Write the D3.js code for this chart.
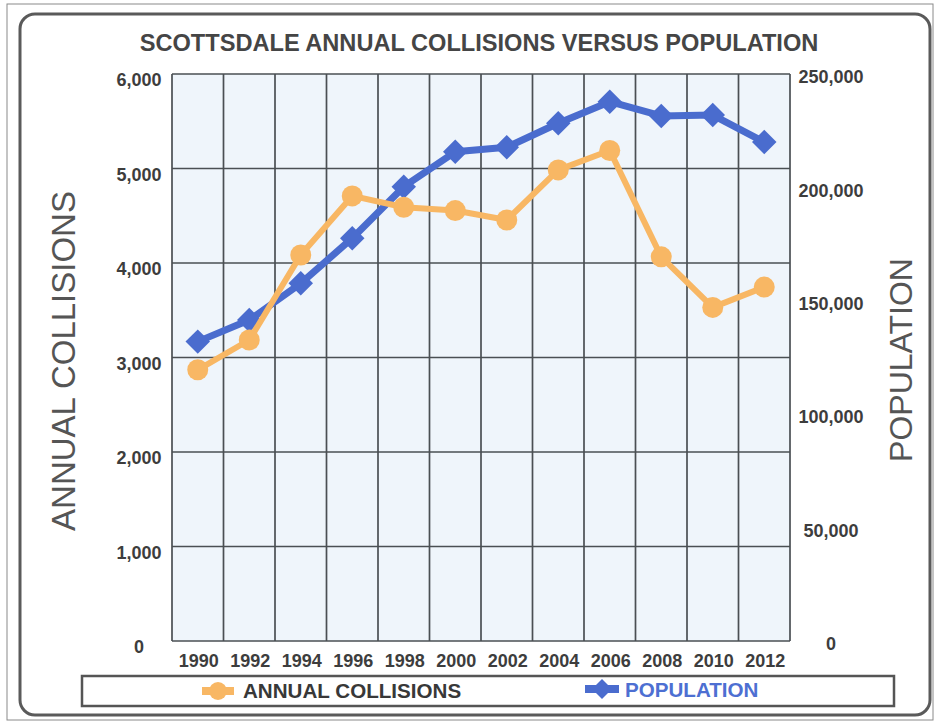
<!DOCTYPE html>
<html>
<head>
<meta charset="utf-8">
<script src="https://cdn.jsdelivr.net/npm/d3@7/dist/d3.min.js"></script>
<style>
  html, body { margin: 0; padding: 0; background: #ffffff; }
  svg { display: block; font-family: "Liberation Sans", Arial, sans-serif; }
</style>
</head>
<body>
<svg id="chart" width="934" height="723"></svg>
<script>
// Scottsdale annual collisions vs. population, 1990-2012 (every other year)
const years = ["1990","1992","1994","1996","1998","2000","2002","2004","2006","2008","2010","2012"];
const collisions = [2870, 3185, 4085, 4710, 4590, 4555, 4455, 4985, 5190, 4065, 3530, 3745];
const population = [132000, 141500, 157700, 177600, 200300, 215700, 217700, 228300, 237800, 231500, 231900, 220000];
const leftTicks = [0, 1000, 2000, 3000, 4000, 5000, 6000];
const rightTicks = [0, 50000, 100000, 150000, 200000, 250000];

const svg = d3.select("#chart");
const plot = { left: 172, right: 790, top: 74, bottom: 641 };

const orange = "#f8b764";
const blue = "#4a6cce";
const gridColor = "#4a4f53";
const textDark = "#3d3d3d";

// Frames
svg.append("rect")
  .attr("x", 7).attr("y", 4).attr("width", 926).attr("height", 716)
  .attr("fill", "none").attr("stroke", "#8a8a8a").attr("stroke-width", 1);
svg.append("rect")
  .attr("x", 20).attr("y", 14).attr("width", 910).attr("height", 701)
  .attr("rx", 15).attr("ry", 15)
  .attr("fill", "#ffffff").attr("stroke", "#5a5a5a").attr("stroke-width", 3);

// Title
svg.append("text")
  .attr("x", 479).attr("y", 51)
  .attr("text-anchor", "middle")
  .attr("font-size", 23.6).attr("font-weight", "bold")
  .attr("fill", "#454545")
  .text("SCOTTSDALE ANNUAL COLLISIONS VERSUS POPULATION");

// Scales
const x = d3.scaleBand().domain(years).range([plot.left, plot.right]).padding(0);
const yL = d3.scaleLinear().domain([0, 6000]).range([plot.bottom, plot.top]);
const yR = d3.scaleLinear().domain([0, 250000]).range([plot.bottom, plot.top]);
const cx = d => x(d) + x.bandwidth() / 2;

// Plot background
svg.append("rect")
  .attr("x", plot.left).attr("y", plot.top)
  .attr("width", plot.right - plot.left).attr("height", plot.bottom - plot.top)
  .attr("fill", "#eff5fb");

// Gridlines
const grid = svg.append("g").attr("stroke", gridColor).attr("stroke-width", 1.7);
grid.selectAll("line.h").data(leftTicks).join("line")
  .attr("class", "h")
  .attr("x1", plot.left).attr("x2", plot.right)
  .attr("y1", d => yL(d)).attr("y2", d => yL(d));
const bounds = years.map(d => x(d)).concat([plot.right]);
grid.selectAll("line.v").data(bounds).join("line")
  .attr("class", "v")
  .attr("x1", d => d).attr("x2", d => d)
  .attr("y1", plot.top).attr("y2", plot.bottom);

// Left axis labels
const fmt = d3.format(",");
const leftAxis = d3.axisLeft(yL).tickValues(leftTicks).tickFormat(fmt).tickSize(0);
const gL = svg.append("g").attr("transform", "translate(139,6)").call(leftAxis);
gL.select(".domain").remove();
gL.selectAll("text")
  .attr("x", 0).attr("text-anchor", "middle")
  .attr("font-size", 18).attr("font-weight", "bold")
  .attr("font-family", "Liberation Sans, Arial, sans-serif")
  .attr("fill", textDark);

// Right axis labels
const rightAxis = d3.axisRight(yR).tickValues(rightTicks).tickFormat(fmt).tickSize(0);
const gR = svg.append("g").attr("transform", "translate(831,3)").call(rightAxis);
gR.select(".domain").remove();
gR.selectAll("text")
  .attr("x", 0).attr("text-anchor", "middle")
  .attr("font-size", 18).attr("font-weight", "bold")
  .attr("font-family", "Liberation Sans, Arial, sans-serif")
  .attr("fill", textDark);

// Bottom axis labels
const bottomAxis = d3.axisBottom(x).tickSize(0);
const gB = svg.append("g").attr("transform", `translate(1,${plot.bottom + 10})`).call(bottomAxis);
gB.select(".domain").remove();
gB.selectAll("text")
  .attr("font-size", 18).attr("font-weight", "bold")
  .attr("font-family", "Liberation Sans, Arial, sans-serif")
  .attr("fill", textDark);

// Axis titles
svg.append("text")
  .attr("transform", "translate(75,361) rotate(-90)")
  .attr("text-anchor", "middle")
  .attr("font-size", 33)
  .attr("fill", "#555555")
  .text("ANNUAL COLLISIONS");
svg.append("text")
  .attr("transform", "translate(912,360) rotate(-90)")
  .attr("text-anchor", "middle")
  .attr("font-size", 32)
  .attr("fill", "#555555")
  .text("POPULATION");

// Population series (secondary axis)
const popLine = d3.line().x((d, i) => cx(years[i])).y(d => yR(d));
svg.append("path")
  .datum(population)
  .attr("d", popLine)
  .attr("fill", "none").attr("stroke", blue).attr("stroke-width", 7)
  .attr("stroke-linejoin", "round");
const diamond = d3.symbol().type(d3.symbolSquare).size(300);
svg.selectAll("path.pop").data(population).join("path")
  .attr("class", "pop")
  .attr("d", diamond)
  .attr("transform", (d, i) => `translate(${cx(years[i])},${yR(d)}) rotate(45)`)
  .attr("fill", blue);

// Collisions series
const colLine = d3.line().x((d, i) => cx(years[i])).y(d => yL(d));
svg.append("path")
  .datum(collisions)
  .attr("d", colLine)
  .attr("fill", "none").attr("stroke", orange).attr("stroke-width", 6)
  .attr("stroke-linejoin", "round");
svg.selectAll("circle.col").data(collisions).join("circle")
  .attr("class", "col")
  .attr("cx", (d, i) => cx(years[i]))
  .attr("cy", d => yL(d))
  .attr("r", 10.5)
  .attr("fill", orange);

// Legend
const lg = svg.append("g");
lg.append("rect")
  .attr("x", 82).attr("y", 676).attr("width", 812).attr("height", 30)
  .attr("fill", "#ffffff").attr("stroke", "#555555").attr("stroke-width", 2.5);

lg.append("line")
  .attr("x1", 202).attr("x2", 234).attr("y1", 691).attr("y2", 691)
  .attr("stroke", orange).attr("stroke-width", 8);
lg.append("circle").attr("cx", 218).attr("cy", 691).attr("r", 9).attr("fill", orange);
lg.append("text")
  .attr("x", 243).attr("y", 698)
  .attr("font-size", 20.6).attr("font-weight", "bold")
  .attr("fill", "#383838")
  .text("ANNUAL COLLISIONS");

lg.append("line")
  .attr("x1", 585).attr("x2", 619).attr("y1", 689).attr("y2", 689)
  .attr("stroke", blue).attr("stroke-width", 8);
lg.append("path")
  .attr("d", d3.symbol().type(d3.symbolSquare).size(200))
  .attr("transform", "translate(602,689) rotate(45)")
  .attr("fill", blue);
lg.append("text")
  .attr("x", 625).attr("y", 697)
  .attr("font-size", 20.6).attr("font-weight", "bold")
  .attr("fill", "#4d6fd2")
  .text("POPULATION");
</script>
</body>
</html>
